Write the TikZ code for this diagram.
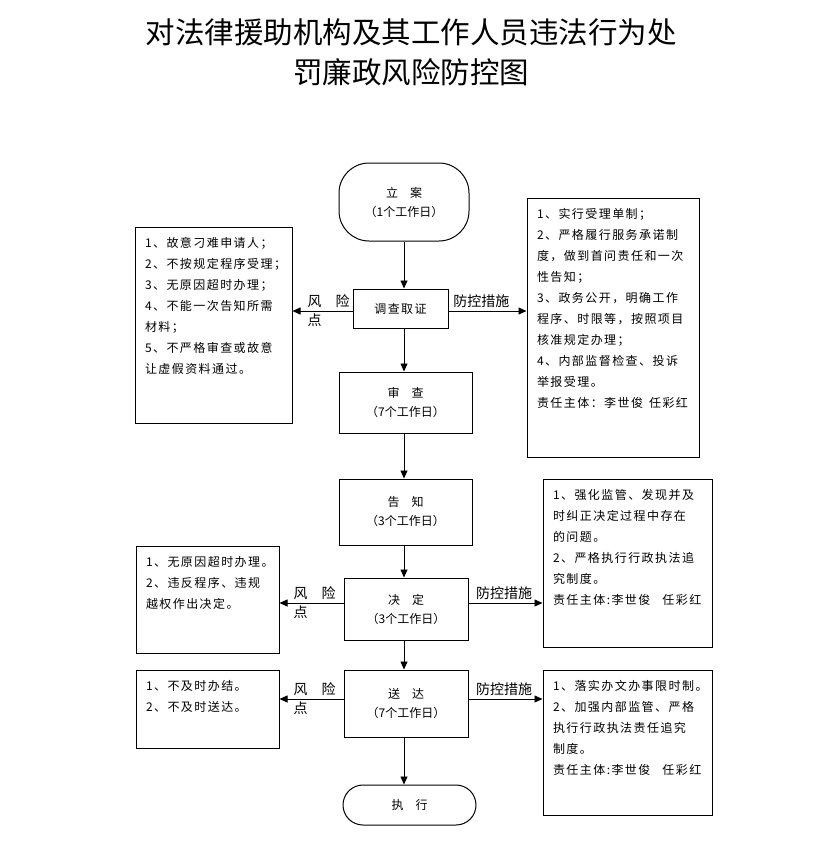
\documentclass[tikz,border=0pt]{standalone}
\usepackage{fontspec}
\newfontfamily\cjk{Noto Sans CJK SC}
\newfontfamily\cjkwide[LetterSpace=12]{Noto Sans CJK SC}
\usetikzlibrary{arrows.meta}
\newcommand{\boxlines}[3]{\parbox[c][#2][t]{#1}{#3}}
\begin{document}
\begin{tikzpicture}[x=1pt, y=-1pt,
    flow/.style={draw, line width=1pt, align=center, inner sep=0pt,
      font=\cjk\fontsize{12}{19}\selectfont},
    side/.style={draw, line width=1pt, inner sep=10pt,
      font=\cjkwide\fontsize{12}{21}\selectfont},
    go/.style={-{Triangle[length=8pt,width=7pt]}, line width=0.8pt},
    lab/.style={font=\cjk\fontsize{14}{19}\selectfont, align=left, inner sep=0pt}]
        \useasboundingbox (0,0) rectangle (823,841);
        % title
        \node[font=\cjk\fontsize{29.5}{34}\selectfont] (title1) at (411,32) {对法律援助机构及其工作人员违法行为处};
        \node[font=\cjk\fontsize{29.5}{34}\selectfont] (title2) at (411,72) {罚廉政风险防控图};
        % main flow
        \node[flow, rounded corners=30pt, minimum width=130pt, minimum height=78pt] (start) at (404,202) {立\quad 案\\（1个工作日）};
        \node[flow, font=\cjkwide\fontsize{12}{19}\selectfont, minimum width=95pt, minimum height=39pt] (inv) at (400.5,308.5) {调查取证};
        \node[flow, minimum width=133pt, minimum height=61pt] (rev) at (405.5,402.5) {审\quad 查\\（7个工作日）};
        \node[flow, minimum width=133pt, minimum height=66pt] (notice) at (405.5,512) {告\quad 知\\（3个工作日）};
        \node[flow, minimum width=124pt, minimum height=62pt] (decide) at (406,609) {决\quad 定\\（3个工作日）};
        \node[flow, minimum width=124pt, minimum height=67pt] (deliver) at (406,703.5) {送\quad 达\\（7个工作日）};
        \node[flow, rounded corners=20pt, minimum width=133pt, minimum height=40pt] (exec) at (409.5,805) {执\quad 行};
        % risk points
        \node[side] (risk1) at (213.5,325) {\boxlines{137pt}{176pt}{1、故意刁难申请人；\\2、不按规定程序受理；\\3、无原因超时办理；\\4、不能一次告知所需\\材料；\\5、不严格审查或故意\\让虚假资料通过。}};
        \node[side] (risk2) at (207.5,599.5) {\boxlines{123pt}{87pt}{1、无原因超时办理。\\2、违反程序、违规\\越权作出决定。}};
        \node[side] (risk3) at (207.5,709) {\boxlines{123pt}{58pt}{1、不及时办结。\\2、不及时送达。}};
        % control measures
        \node[side] (ctrl1) at (613,327.5) {\boxlines{152pt}{239pt}{1、实行受理单制；\\2、严格履行服务承诺制\\度，做到首问责任和一次\\性告知；\\3、政务公开，明确工作\\程序、时限等，按照项目\\核准规定办理；\\4、内部监督检查、投诉\\举报受理。\\\mbox{责任主体：李世俊\enspace 任彩红}}};
        \node[side] (ctrl2) at (627.5,563) {\boxlines{149pt}{148pt}{1、强化监管、发现并及\\时纠正决定过程中存在\\的问题。\\2、严格执行行政执法追\\究制度。\\\mbox{责任主体:李世俊\quad 任彩红}}};
        \node[side] (ctrl3) at (627.5,742.5) {\boxlines{149pt}{125pt}{1、落实办文办事限时制。\\2、加强内部监管、严格\\执行行政执法责任追究\\制度。\\\mbox{责任主体:李世俊\quad 任彩红}}};
        % arrows down
        \draw[go] (start.south) -- (start.south |- inv.north);
        \draw[go] (inv.south -| start.south) -- (rev.north -| start.south);
        \draw[go] (rev.south -| start.south) -- (notice.north -| start.south);
        \draw[go] (notice.south -| start.south) -- (decide.north -| start.south);
        \draw[go] (decide.south -| start.south) -- (deliver.north -| start.south);
        \draw[go] (deliver.south -| start.south) -- (exec.north -| start.south);
        % arrows to the sides
        \draw[go] ([yshift=-2.5pt]inv.west) -- ([yshift=-2.5pt]inv.west -| risk1.east) node[lab, pos=0.4] {风\quad 险\\点};
        \draw[go] ([yshift=-2.5pt]inv.east) -- ([yshift=-2.5pt]inv.east -| ctrl1.west) node[lab, pos=0.42, above=3pt] {防控措施};
        \draw[go] ([yshift=6pt]decide.west) -- ([yshift=6pt]decide.west -| risk2.east) node[lab, pos=0.45] {风\quad 险\\点};
        \draw[go] ([yshift=6pt]decide.east) -- ([yshift=6pt]decide.east -| ctrl2.west) node[lab, pos=0.48, above=3pt] {防控措施};
        \draw[go] ([yshift=4.5pt]deliver.west) -- ([yshift=4.5pt]deliver.west -| risk3.east) node[lab, pos=0.45] {风\quad 险\\点};
        \draw[go] ([yshift=4.5pt]deliver.east) -- ([yshift=4.5pt]deliver.east -| ctrl3.west) node[lab, pos=0.48, above=3pt] {防控措施};
      \end{tikzpicture}
\end{document}
